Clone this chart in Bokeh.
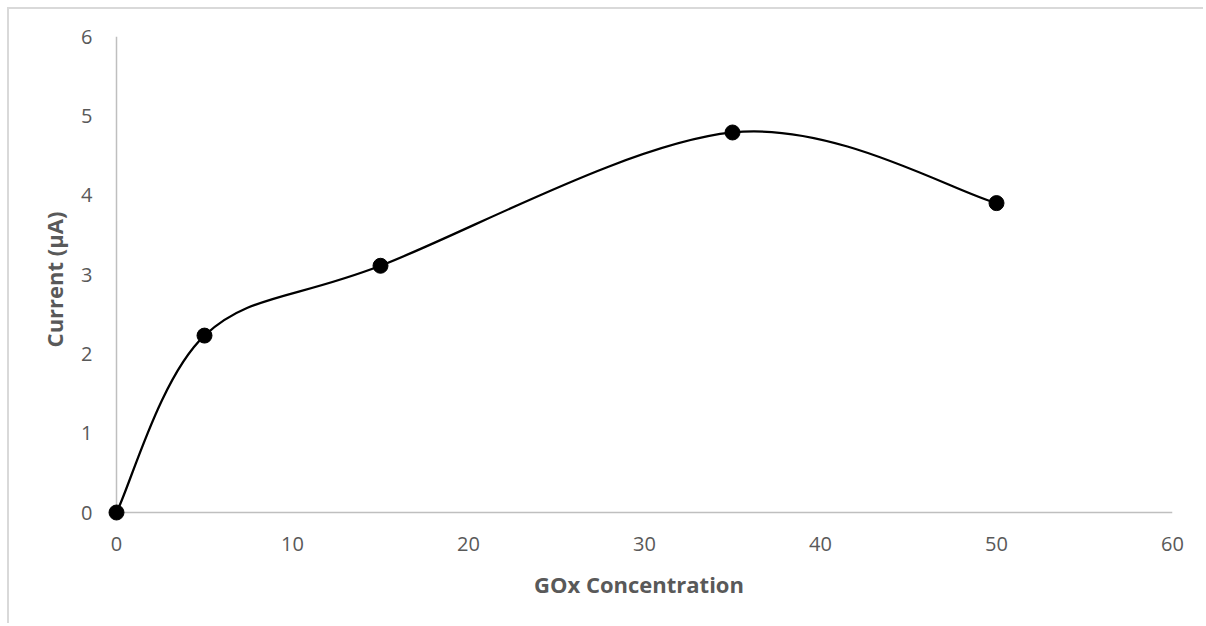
from bokeh.plotting import figure
from bokeh.models import Range1d, FixedTicker
from bokeh.embed import file_html
from bokeh.resources import INLINE

# Data
gox_concentration = [0, 5, 15, 35, 50]
current_uA = [0.0, 2.23, 3.11, 4.79, 3.90]
x_ticks = [0, 10, 20, 30, 40, 50, 60]
y_ticks = [0, 1, 2, 3, 4, 5, 6]

# Smooth (Catmull-Rom style Bezier, like Excel's smoothed line) control points from data
n = len(gox_concentration)
x0, y0, x1, y1, cx0, cy0, cx1, cy1 = [], [], [], [], [], [], [], []
for i in range(n - 1):
    xp = gox_concentration[max(i - 1, 0)]
    yp = current_uA[max(i - 1, 0)]
    xa, ya = gox_concentration[i], current_uA[i]
    xb, yb = gox_concentration[i + 1], current_uA[i + 1]
    xn = gox_concentration[min(i + 2, n - 1)]
    yn = current_uA[min(i + 2, n - 1)]
    x0.append(xa); y0.append(ya); x1.append(xb); y1.append(yb)
    cx0.append(xa + (xb - xp) / 6.0); cy0.append(ya + (yb - yp) / 6.0)
    cx1.append(xb - (xn - xa) / 6.0); cy1.append(yb - (yn - ya) / 6.0)

FONT = "Open Sans"
GREY_TXT = "#595959"
AXIS_GREY = "#bfbfbf"

# small padding so the marker at the origin is not clipped by the frame
PADX = 0.625
PADY = 0.126

p = figure(width=1196, height=616, output_backend="svg", toolbar_location=None,
           x_range=Range1d(x_ticks[0] - PADX, x_ticks[-1]),
           y_range=Range1d(y_ticks[0] - PADY, y_ticks[-1]),
           min_border_left=96, min_border_right=33, min_border_top=27, min_border_bottom=103)
p.background_fill_color = "white"
p.border_fill_color = "white"
p.outline_line_color = None
p.xgrid.grid_line_color = None
p.ygrid.grid_line_color = None
p.styles = {"border-left": "2px solid #d9d9d9", "border-top": "2px solid #d9d9d9",
            "margin-left": "7px", "margin-top": "7px"}

# axis lines at the origin (drawn from tick arrays)
p.segment(x0=[x_ticks[0]], y0=[y_ticks[0]], x1=[x_ticks[-1]], y1=[y_ticks[0]],
          line_color=AXIS_GREY, line_width=1.5)
p.segment(x0=[x_ticks[0]], y0=[y_ticks[0]], x1=[x_ticks[0]], y1=[y_ticks[-1]],
          line_color=AXIS_GREY, line_width=1.5)

p.bezier(x0=x0, y0=y0, x1=x1, y1=y1, cx0=cx0, cy0=cy0, cx1=cx1, cy1=cy1,
         line_color="black", line_width=2.25)
p.scatter(gox_concentration, current_uA, size=15, color="black")

for ax, ticks in ((p.xaxis[0], x_ticks), (p.yaxis[0], y_ticks)):
    ax.ticker = FixedTicker(ticks=ticks)
    ax.axis_line_color = None
    ax.major_tick_line_color = None
    ax.minor_tick_line_color = None
    ax.major_tick_out = 0
    ax.major_label_text_font = FONT
    ax.major_label_text_font_size = "20px"
    ax.major_label_text_color = GREY_TXT
    ax.axis_label_text_font = FONT
    ax.axis_label_text_font_size = "22px"
    ax.axis_label_text_font_style = "bold"
    ax.axis_label_text_color = GREY_TXT

p.xaxis.axis_label = "GOx Concentration"
p.yaxis.axis_label = "Current (µA)"
p.xaxis.major_label_standoff = 14
p.yaxis.major_label_standoff = 13
p.xaxis.axis_label_standoff = 15
p.yaxis.axis_label_standoff = 9

open("out.html", "w").write(file_html(p, INLINE))
